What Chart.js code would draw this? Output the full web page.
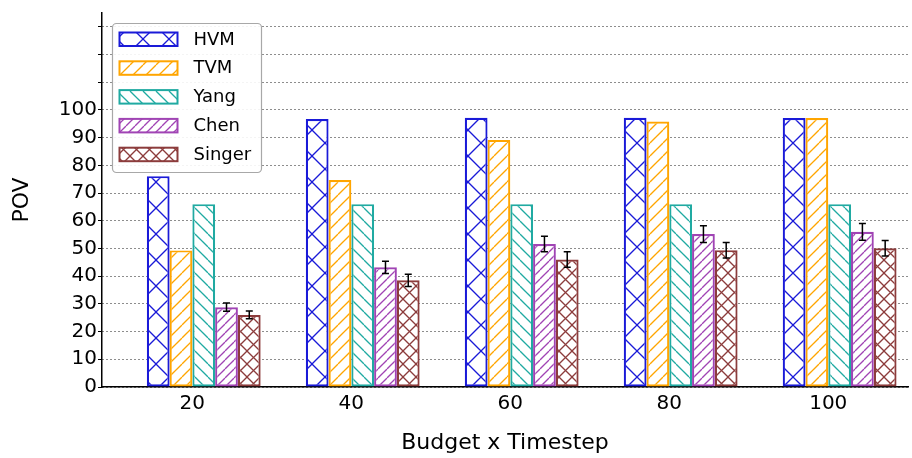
<!DOCTYPE html>
<html>
<head>
<meta charset="utf-8">
<script src="https://cdn.jsdelivr.net/npm/chart.js@4"></script>
<style>
  html, body { margin: 0; padding: 0; background: #fff; }
  #wrap { width: 912px; height: 458px; }
</style>
</head>
<body>
<div id="wrap"><canvas id="povChart" width="912" height="458"></canvas></div>
<script>
// data
const budgets = [20, 40, 60, 80, 100];
const hvm = [76.1, 96.7, 97.2, 97.2, 97.1];
const tvm = [49.3, 74.7, 89.2, 95.8, 97.1];
const yang = [66.0, 66.0, 66.0, 66.0, 66.0];
const chen = [28.8, 43.2, 51.6, 55.2, 56.0];
const singer = [26.0, 38.5, 46.0, 49.4, 50.1];
const chenErr = [1.5, 2.2, 2.8, 3.0, 3.0];
const singerErr = [1.4, 2.2, 2.8, 2.8, 2.8];
const yTicks = [0, 10, 20, 30, 40, 50, 60, 70, 80, 90, 100, 110, 120, 130];

const FONT = "'DejaVu Sans', sans-serif";

// hatch tiles, like matplotlib hatches
function hatch(color, kind, size) {
  const c = document.createElement("canvas");
  c.width = size;
  c.height = size;
  const g = c.getContext("2d");
  g.fillStyle = "#fff";
  g.fillRect(0, 0, size, size);
  g.strokeStyle = color;
  g.lineWidth = 1.3;
  for (let k = -1; k <= 1; k++) {
    if (kind === "/" || kind === "x") {
      g.beginPath();
      g.moveTo(k * size, size);
      g.lineTo(k * size + size, 0);
      g.stroke();
    }
    if (kind === "\\" || kind === "x") {
      g.beginPath();
      g.moveTo(k * size, 0);
      g.lineTo(k * size + size, size);
      g.stroke();
    }
  }
  return g.createPattern(c, "repeat");
}

const series = [
  { label: "HVM", data: hvm, color: "#1a1ad8", kind: "x", size: 26 },
  { label: "TVM", data: tvm, color: "#ffa500", kind: "/", size: 13 },
  { label: "Yang", data: yang, color: "#20aaa2", kind: "\\", size: 13 },
  { label: "Chen", data: chen, color: "#a044b4", kind: "/", size: 9 },
  { label: "Singer", data: singer, color: "#8c3c3c", kind: "x", size: 13 },
];
const errors = { Chen: chenErr, Singer: singerErr };

const datasets = series.map((s) => ({
  label: s.label,
  data: budgets.map((b, i) => ({ x: b, y: s.data[i] })),
  backgroundColor: hatch(s.color, s.kind, s.size),
  borderColor: s.color,
  borderWidth: 2.2,
  borderSkipped: false,
  categoryPercentage: 0.716,
  barPercentage: 1.0,
}));

// error bars for Chen and Singer
const errorBars = {
  id: "errorBars",
  afterDatasetsDraw(chart) {
    const ctx = chart.ctx;
    const y = chart.scales.y;
    ctx.save();
    ctx.strokeStyle = "#000";
    ctx.lineWidth = 1.5;
    chart.data.datasets.forEach((ds, di) => {
      const err = errors[ds.label];
      if (!err) return;
      chart.getDatasetMeta(di).data.forEach((bar, i) => {
        const v = ds.data[i].y;
        const top = y.getPixelForValue(v + err[i]);
        const bot = y.getPixelForValue(v - err[i]);
        ctx.beginPath();
        ctx.moveTo(bar.x, top);
        ctx.lineTo(bar.x, bot);
        ctx.moveTo(bar.x - 3.5, top);
        ctx.lineTo(bar.x + 3.5, top);
        ctx.moveTo(bar.x - 3.5, bot);
        ctx.lineTo(bar.x + 3.5, bot);
        ctx.stroke();
      });
    });
    ctx.restore();
  },
};

// legend box in the upper left of the plot
const boxLegend = {
  id: "boxLegend",
  afterDraw(chart) {
    const ctx = chart.ctx;
    const area = chart.chartArea;
    const x0 = area.left + 10.5;
    const y0 = area.top + 10.5;
    const w = 149;
    const h = 149;
    ctx.save();
    ctx.fillStyle = "rgba(255,255,255,0.9)";
    ctx.strokeStyle = "#a8a8a8";
    ctx.lineWidth = 1.2;
    ctx.beginPath();
    ctx.roundRect(x0, y0, w, h, 4);
    ctx.fill();
    ctx.stroke();
    ctx.font = "18px " + FONT;
    ctx.textBaseline = "middle";
    chart.data.datasets.forEach((ds, i) => {
      const py = y0 + 9 + i * 28.8;
      ctx.fillStyle = ds.backgroundColor;
      ctx.fillRect(x0 + 7, py, 58, 13.5);
      ctx.strokeStyle = ds.borderColor;
      ctx.lineWidth = 2;
      ctx.strokeRect(x0 + 7, py, 58, 13.5);
      ctx.fillStyle = "#000";
      ctx.fillText(ds.label, x0 + 81, py + 7.5);
    });
    ctx.restore();
  },
};

const chart = new Chart(document.getElementById("povChart").getContext("2d"), {
  type: "bar",
  data: { datasets: datasets },
  options: {
    responsive: false,
    animation: false,
    devicePixelRatio: 1,
    layout: { padding: { left: 0, right: 4, top: 13, bottom: 0 } },
    plugins: {
      legend: { display: false },
      tooltip: { enabled: false },
    },
    scales: {
      x: {
        type: "linear",
        offset: false,
        min: 7.2,
        max: 108.6,
        afterBuildTicks: (scale) => {
          scale.ticks = budgets.map((b) => ({ value: b }));
        },
        afterFit: (scale) => {
          scale.height = 71;
        },
        grid: { display: false, drawTicks: false, offset: false },
        border: { color: "#000", width: 1.5 },
        ticks: {
          color: "#000",
          font: { family: FONT, size: 20 },
          padding: 5,
          labelOffset: -11.4,
          maxRotation: 0,
        },
        title: {
          display: true,
          text: "Budget x Timestep",
          color: "#000",
          font: { family: FONT, size: 22 },
          padding: { top: 0, bottom: 2 },
        },
      },
      y: {
        min: 0,
        max: 135,
        afterBuildTicks: (scale) => {
          scale.ticks = yTicks.map((v) => ({ value: v }));
        },
        afterFit: (scale) => {
          scale.width = 102;
        },
        grid: {
          color: "#1a1a1a",
          lineWidth: 1,
          tickColor: "#000",
          tickLength: 4,
          tickBorderDash: [],
        },
        border: { color: "#000", width: 1.5, dash: [1, 3] },
        ticks: {
          color: "#000",
          font: { family: FONT, size: 20 },
          padding: 1,
          callback: (v) => (v <= 100 ? v : ""),
        },
        title: {
          display: true,
          text: "POV",
          color: "#000",
          font: { family: FONT, size: 22 },
          padding: { top: 9, bottom: 0 },
        },
      },
    },
  },
  plugins: [errorBars, boxLegend],
});
</script>
</body>
</html>
